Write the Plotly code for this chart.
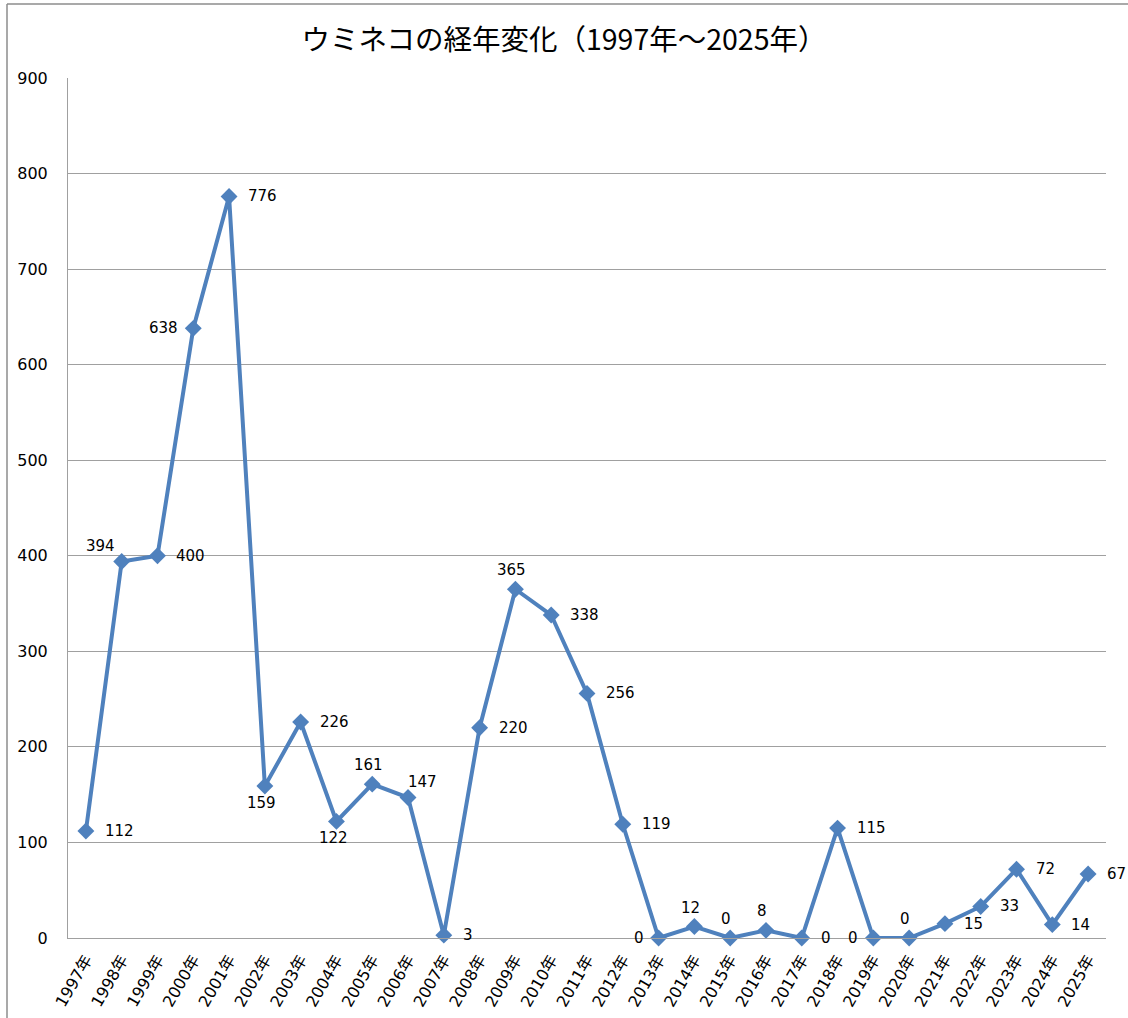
import plotly.graph_objects as go

years = [f"{y}年" for y in range(1997, 2026)]
values = [112, 394, 400, 638, 776, 159, 226, 122, 161, 147, 3, 220, 365, 338, 256,
          119, 0, 12, 0, 8, 0, 115, 0, 0, 15, 33, 72, 14, 67]
label_pos = ["right", "top left", "right", "left", "right",
             "bottom", "right", "bottom", "top", "top right",
             "right", "right", "top", "right", "right",
             "right", "left", "top", "top", "top",
             "right", "right", "left", "top", "right",
             "right", "right", "right", "right"]
yticks = [0, 100, 200, 300, 400, 500, 600, 700, 800, 900]

CJK = "Noto Sans CJK JP, Noto Sans, sans-serif"
NUM = "DejaVu Sans, Noto Sans CJK JP, sans-serif"
W, H = 1128, 1018
ml, mr, mt, mb = 68, 22, 78, 80
pw, ph = W - ml - mr, H - mt - mb

# label placement rules: (xanchor, yanchor, xshift, yshift)
placement = {
    "right": ("left", "middle", 17, 0),
    "left": ("right", "middle", -13, 0),
    "top": ("center", "middle", -4, 19),
    "bottom": ("center", "middle", -3, -17),
    "top left": ("center", "middle", -21, 16),
    "top right": ("center", "middle", 14, 16),
}

fig = go.Figure(go.Scatter(
    x=years, y=values, mode="lines+markers",
    line=dict(color="#4F81BD", width=4),
    marker=dict(symbol="diamond", size=13, color="#4F81BD"),
    cliponaxis=False, showlegend=False, hoverinfo="skip",
))

annotations = []
for yr, v, p in zip(years, values, label_pos):
    xa, ya, xs, ys = placement[p]
    annotations.append(dict(
        x=yr, y=v, xref="x", yref="y", text=str(v), showarrow=False,
        xanchor=xa, yanchor=ya, xshift=xs, yshift=ys,
        font=dict(family=NUM, size=15, color="#000000"),
    ))

fig.update_layout(
    width=W, height=H,
    margin=dict(l=ml, r=mr, t=mt, b=mb, autoexpand=False),
    paper_bgcolor="white", plot_bgcolor="white",
    title=dict(text="ウミネコの経年変化（1997年～2025年）", x=0.5, xanchor="center",
               y=1 - 40 / H, yanchor="middle",
               font=dict(family=CJK, size=28.5, color="#000000")),
    xaxis=dict(tickmode="array", tickvals=years, ticktext=years, tickangle=-60,
               showgrid=False, showline=True, linecolor="#A0A0A0", linewidth=1,
               tickfont=dict(family=NUM, size=16, color="#000000"), ticks="",
               ticklabelstandoff=5,
               range=[-0.5, len(years) - 0.5], fixedrange=True, automargin=False),
    yaxis=dict(tickmode="array", tickvals=yticks, range=[0, 900],
               showgrid=True, gridcolor="#A0A0A0", gridwidth=1,
               showline=True, linecolor="#A0A0A0", linewidth=1, zeroline=False,
               tickfont=dict(family=NUM, size=16, color="#000000"), ticks="",
               ticklabelstandoff=16, automargin=False, fixedrange=True),
    annotations=annotations,
    shapes=[
        dict(type="line", xref="paper", yref="paper",
             x0=(7 - ml) / pw, x1=(7 - ml) / pw, y0=1 + (mt - 4) / ph, y1=-(mb + 5) / ph,
             line=dict(color="#8C8C8C", width=1.5)),
        dict(type="line", xref="paper", yref="paper",
             x0=(7 - ml) / pw, x1=1 + (mr + 5) / pw, y0=1 + (mt - 4) / ph, y1=1 + (mt - 4) / ph,
             line=dict(color="#8C8C8C", width=1.5)),
    ],
)

fig.write_html("out.html", config={"displayModeBar": False},
               post_script="document.body.style.margin='0';document.body.style.overflow='hidden';")
